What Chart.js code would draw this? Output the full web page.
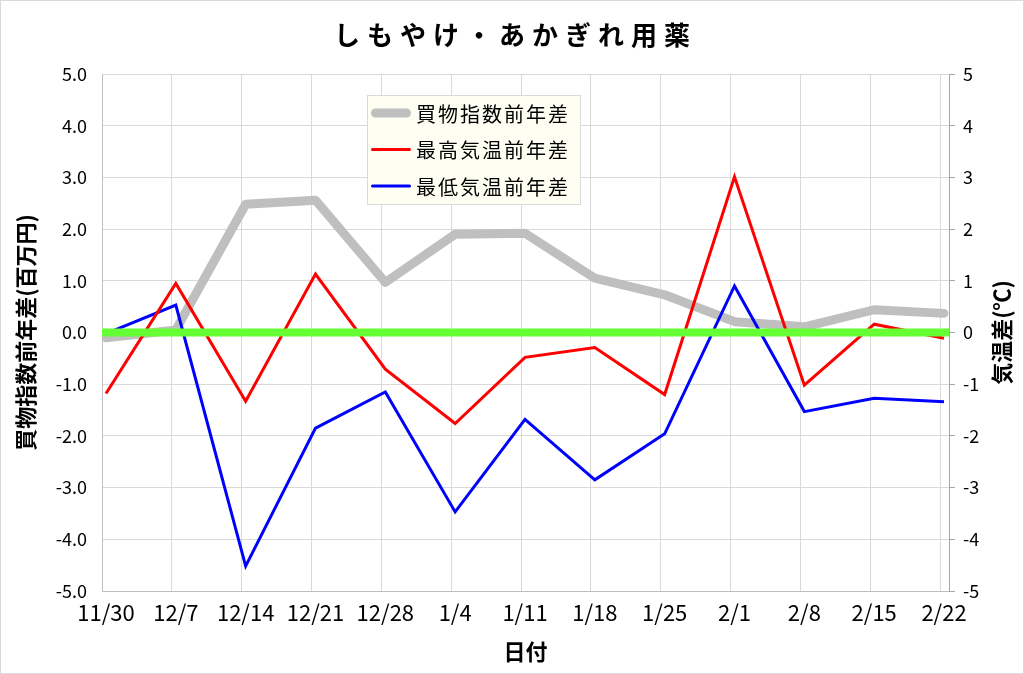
<!DOCTYPE html>
<html>
<head>
<meta charset="utf-8">
<script src="https://cdn.jsdelivr.net/npm/chart.js@4.4.1/dist/chart.umd.min.js"></script>
<style>
  html, body { margin: 0; padding: 0; background: #fff; }
  canvas { display: block; }
</style>
</head>
<body>
<canvas id="chart" width="1024" height="674"></canvas>
<script>
// しもやけ・あかぎれ用薬 — 買物指数と気温の前年差

const chartTitle = "しもやけ・あかぎれ用薬";
const dates = ["11/30", "12/7", "12/14", "12/21", "12/28", "1/4", "1/11", "1/18", "1/25", "2/1", "2/8", "2/15", "2/22"];
const shoppingDiff = [-0.1, 0.05, 2.48, 2.56, 0.97, 1.9, 1.92, 1.05, 0.73, 0.21, 0.11, 0.44, 0.37];
const maxTempDiff = [-1.18, 0.95, -1.33, 1.13, -0.71, -1.76, -0.48, -0.29, -1.2, 3.01, -1.02, 0.16, -0.11];
const minTempDiff = [-0.02, 0.53, -4.52, -1.85, -1.15, -3.47, -1.68, -2.85, -1.96, 0.9, -1.53, -1.27, -1.34];
const leftTicks = [-5, 5];   // 買物指数前年差 (百万円)
const rightTicks = [-5, 5];  // 気温差 (℃)

// 日付軸: 1週間 = 7日, データは目盛りより少し右
const daysPerWeek = 7;
const pointShift = 0.4;
const xMax = 84.9;

const FONT = "'Noto Sans CJK JP', 'Noto Sans', sans-serif";

function weekPoints(values) {
  return values.map((v, i) => ({ x: i * daysPerWeek + pointShift, y: v }));
}

// タイトル・凡例・右軸タイトル・枠線
const decorPlugin = {
  id: "decor",
  beforeDraw(chart) {
    const ctx = chart.ctx;
    ctx.save();
    ctx.fillStyle = "#fff";
    ctx.fillRect(0, 0, chart.width, chart.height);
    ctx.strokeStyle = "#d9d9d9";
    ctx.lineWidth = 1;
    ctx.strokeRect(0.5, 0.5, chart.width - 1, chart.height - 1);
    ctx.restore();
  },
  afterDraw(chart) {
    const ctx = chart.ctx;
    const area = chart.chartArea;

    // タイトル
    ctx.save();
    ctx.font = `bold 26px ${FONT}`;
    ctx.letterSpacing = "7px";
    ctx.fillStyle = "#000";
    ctx.textBaseline = "middle";
    ctx.textAlign = "left";
    const tw = ctx.measureText(chartTitle).width - 7;
    ctx.fillText(chartTitle, 512 - tw / 2, 35);
    ctx.restore();

    // 右軸タイトル (下から上へ)
    ctx.save();
    ctx.translate(1002, (area.top + area.bottom) / 2);
    ctx.rotate(-Math.PI / 2);
    ctx.font = `bold 22px ${FONT}`;
    ctx.fillStyle = "#000";
    ctx.textAlign = "center";
    ctx.textBaseline = "middle";
    ctx.fillText("気温差(℃)", 0, 0);
    ctx.restore();

    // 凡例
    const items = chart.data.datasets.filter(d => d.inLegend);
    const bx = 367, by = 95, bw = 213, bh = 109;
    ctx.save();
    ctx.fillStyle = "#fffef3";
    ctx.fillRect(bx, by, bw, bh);
    ctx.strokeStyle = "#d9d9d9";
    ctx.lineWidth = 1;
    ctx.strokeRect(bx + 0.5, by + 0.5, bw, bh);
    items.forEach((d, i) => {
      const y = 113 + i * 36.5;
      ctx.beginPath();
      ctx.strokeStyle = d.borderColor;
      ctx.lineWidth = d.borderWidth;
      ctx.lineCap = "round";
      const pad = d.borderWidth > 5 ? 4.5 : 1.5;
      ctx.moveTo(371 + pad, y);
      ctx.lineTo(411 - pad, y);
      ctx.stroke();
      ctx.font = `20px ${FONT}`;
      ctx.letterSpacing = "2px";
      ctx.fillStyle = "#000";
      ctx.textBaseline = "middle";
      ctx.textAlign = "left";
      ctx.fillText(d.label, 416, y + 1);
    });
    ctx.restore();
  }
};

new Chart(document.getElementById("chart"), {
  type: "line",
  data: {
    datasets: [
      {
        label: "買物指数前年差",
        inLegend: true,
        data: weekPoints(shoppingDiff),
        yAxisID: "y",
        borderColor: "#bfbfbf",
        borderWidth: 9,
        borderJoinStyle: "round",
        borderCapStyle: "round",
        pointRadius: 0,
        order: 3
      },
      {
        label: "最高気温前年差",
        inLegend: true,
        data: weekPoints(maxTempDiff),
        yAxisID: "y2",
        borderColor: "#ff0000",
        borderWidth: 3,
        pointRadius: 0,
        order: 1
      },
      {
        label: "最低気温前年差",
        inLegend: true,
        data: weekPoints(minTempDiff),
        yAxisID: "y2",
        borderColor: "#0000ff",
        borderWidth: 3,
        pointRadius: 0,
        order: 2
      },
      {
        label: "基準線",
        data: [{ x: 0, y: 0 }, { x: xMax, y: 0 }],
        yAxisID: "y",
        borderColor: "#66ff33",
        borderWidth: 8,
        pointRadius: 0,
        order: 0
      }
    ]
  },
  options: {
    responsive: false,
    animation: false,
    devicePixelRatio: 1,
    layout: { padding: { top: 74, left: 0, right: 0, bottom: 0 } },
    plugins: {
      legend: { display: false },
      title: { display: false },
      tooltip: { enabled: false }
    },
    scales: {
      x: {
        type: "linear",
        min: 0,
        max: xMax,
        afterFit: s => { s.height = 83; },
        grid: { color: "#d9d9d9", lineWidth: 1, drawTicks: false },
        border: { color: "#bfbfbf" },
        ticks: {
          stepSize: daysPerWeek,
          includeBounds: false,
          autoSkip: false,
          maxRotation: 0,
          padding: 8,
          labelOffset: 4,
          color: "#000",
          font: { family: FONT, size: 22 },
          callback: v => (v % daysPerWeek === 0 ? dates[v / daysPerWeek] : "")
        },
        title: {
          display: true,
          text: "日付",
          color: "#000",
          font: { family: FONT, size: 22, weight: "bold" },
          padding: { top: 0, bottom: 9 }
        }
      },
      y: {
        position: "left",
        min: leftTicks[0],
        max: leftTicks[1],
        afterFit: s => { s.width = 102; },
        grid: { color: "#d9d9d9", lineWidth: 1, drawTicks: false },
        border: { color: "#bfbfbf" },
        ticks: {
          stepSize: 1,
          padding: 15,
          color: "#000",
          font: { family: FONT, size: 18 },
          callback: v => v.toFixed(1)
        },
        title: {
          display: true,
          text: "買物指数前年差(百万円)",
          color: "#000",
          font: { family: FONT, size: 22, weight: "bold" },
          padding: { top: 12, bottom: 0 }
        }
      },
      y2: {
        position: "right",
        min: rightTicks[0],
        max: rightTicks[1],
        afterFit: s => { s.width = 75; },
        grid: { drawOnChartArea: false, drawTicks: true, tickLength: 6, color: "#a6a6a6" },
        border: { color: "#a6a6a6" },
        ticks: {
          stepSize: 1,
          padding: 8,
          color: "#000",
          font: { family: FONT, size: 18 }
        }
      }
    }
  },
  plugins: [decorPlugin]
});
</script>
</body>
</html>
